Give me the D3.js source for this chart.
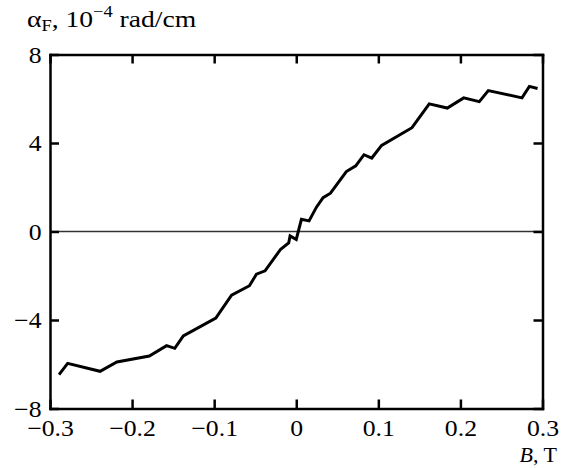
<!DOCTYPE html>
<html>
<head>
<meta charset="utf-8">
<script src="https://cdn.jsdelivr.net/npm/d3@7"></script>
<style>
  body { margin: 0; background: #fff; }
</style>
</head>
<body>
<div id="chart"></div>
<script>
// data
const fieldB = [-0.289, -0.2785, -0.239, -0.2185, -0.179, -0.158, -0.148, -0.1376, -0.098, -0.0788,
  -0.057, -0.0485, -0.038, -0.019, -0.0092, -0.0075, 0.0, 0.0063, 0.0156, 0.0246,
  0.0327, 0.0417, 0.061, 0.0725, 0.0825, 0.092, 0.104, 0.141, 0.162, 0.184,
  0.204, 0.223, 0.234, 0.275, 0.284, 0.294];
const faraday = [-6.47, -5.96, -6.32, -5.90, -5.63, -5.16, -5.28, -4.72, -3.91, -2.88,
  -2.45, -1.93, -1.78, -0.80, -0.52, -0.20, -0.36, 0.55, 0.48, 1.10,
  1.53, 1.73, 2.71, 2.97, 3.47, 3.32, 3.89, 4.69, 5.77, 5.58,
  6.04, 5.87, 6.37, 6.04, 6.56, 6.46];
const xTicks = [-0.3, -0.2, -0.1, 0, 0.1, 0.2, 0.3];
const yTicks = [-8, -4, 0, 4, 8];

const width = 563, height = 468;
const plotLeft = 50, plotRight = 542.5, plotTop = 54.5, plotBottom = 408.5;
const serif = "'Liberation Serif', 'Times New Roman', serif";
const stretch = 1.12; // labels in the picture are a bit wider than Times

const svg = d3.select("#chart")
  .append("svg")
  .attr("width", width)
  .attr("height", height)
  .attr("font-family", serif)
  .classed("chart", true);

const xScale = d3.scaleLinear().domain([-0.3, 0.3]).range([plotLeft, plotRight]);
const yScale = d3.scaleLinear().domain([-8, 8]).range([plotBottom, plotTop]);

const fmtX = d => d === 0 ? "0" : d3.format(".1f")(d).replace("-", "\u2212");
const fmtY = d => d3.format("d")(d).replace("-", "\u2212");

// zero line
svg.append("line")
  .attr("x1", plotLeft).attr("x2", plotRight)
  .attr("y1", yScale(0)).attr("y2", yScale(0))
  .attr("stroke", "#333").attr("stroke-width", 1.5);

// bottom axis
const gx = svg.append("g")
  .attr("transform", "translate(0," + plotBottom + ")")
  .call(d3.axisBottom(xScale).tickValues(xTicks).tickFormat(fmtX).tickSizeInner(-9).tickSizeOuter(0));
gx.selectAll("text").attr("y", 27.5).attr("dy", null)
  .attr("transform", "scale(" + stretch + ",1)");

// left axis
const gy = svg.append("g")
  .attr("transform", "translate(" + plotLeft + ",0)")
  .call(d3.axisLeft(yScale).tickValues(yTicks).tickFormat(fmtY).tickSizeInner(-9).tickSizeOuter(0));
gy.selectAll("text").attr("x", -8.5 / stretch).attr("dy", "0.34em")
  .attr("transform", "scale(" + stretch + ",1)");

[gx, gy].forEach(g => g.attr("font-family", serif).attr("font-size", 23)
  .selectAll("text").attr("fill", "#000"));

// top & right axes, ticks only
svg.append("g")
  .attr("transform", "translate(0," + plotTop + ")")
  .call(d3.axisTop(xScale).tickValues(xTicks).tickFormat("").tickSizeInner(-9).tickSizeOuter(0));
svg.append("g")
  .attr("transform", "translate(" + plotRight + ",0)")
  .call(d3.axisRight(yScale).tickValues(yTicks).tickFormat("").tickSizeInner(-9).tickSizeOuter(0));

svg.selectAll(".domain, .tick line").attr("stroke", "#000").attr("stroke-width", 2.5);
svg.selectAll(".domain").attr("stroke-linecap", "square");

// curve
const line = d3.line()
  .x((d, i) => xScale(fieldB[i]))
  .y(d => yScale(d));
svg.append("path")
  .datum(faraday)
  .attr("d", line)
  .attr("fill", "none")
  .attr("stroke", "#000")
  .attr("stroke-width", 3)
  .attr("stroke-linejoin", "miter");

// y title
const yt = svg.append("text")
  .attr("transform", "translate(27,27) scale(1.15,1)")
  .attr("font-size", 24);
yt.append("tspan").text("\u03b1");
yt.append("tspan").attr("font-size", 16).attr("dy", 4).text("F");
yt.append("tspan").attr("dy", -4).text(", 10");
yt.append("tspan").attr("font-size", 16).attr("dy", -10).text("\u22124");
yt.append("tspan").attr("dy", 10).text(" rad/cm");

// x title
const xt = svg.append("text")
  .attr("x", 557).attr("y", 462)
  .attr("text-anchor", "end")
  .attr("font-size", 22);
xt.append("tspan").attr("font-style", "italic").text("B");
xt.append("tspan").text(", T");
</script>
</body>
</html>
